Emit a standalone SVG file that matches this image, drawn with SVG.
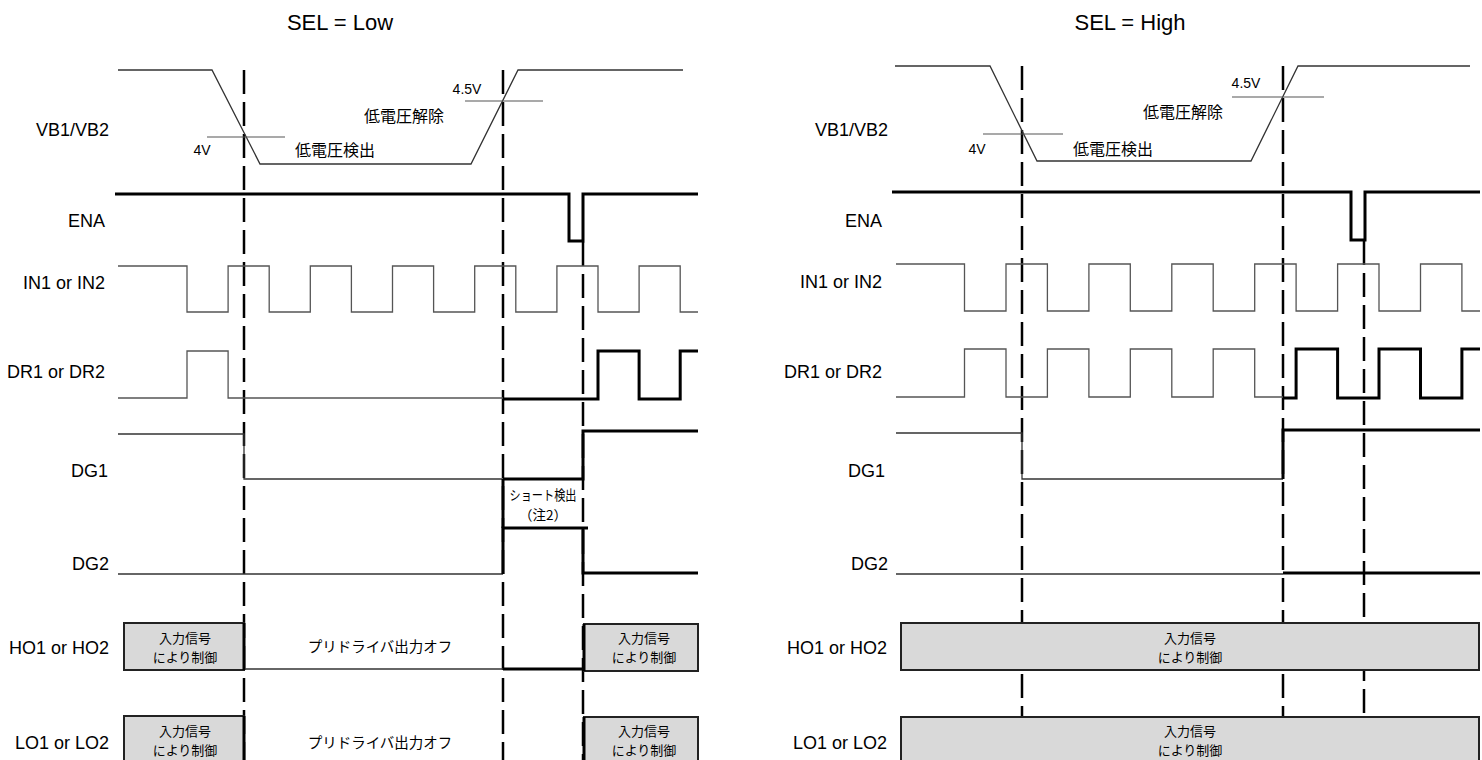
<svg xmlns="http://www.w3.org/2000/svg" width="1482" height="760" viewBox="0 0 1482 760">
<style>
.bg{fill:#ffffff}
.title{font-family:"Liberation Sans",Arial,sans-serif;font-size:22px;fill:#000;text-anchor:middle}
.lbl{font-family:"Liberation Sans",Arial,sans-serif;font-size:18px;fill:#000;text-anchor:end}
.v{font-family:"Liberation Sans",Arial,sans-serif;font-size:14px;fill:#000;text-anchor:middle}
.jp{font-family:"Noto Sans CJK JP","Noto Sans CJK SC",sans-serif;fill:#000;text-anchor:middle}
.j16{font-size:16px}
.j14{font-size:13px}
.j15{font-size:14.5px}
.j13{font-size:13.5px}
.thin{fill:none;stroke:#333;stroke-width:1.3}
.gray{fill:none;stroke:#555;stroke-width:1.3}
.tick{fill:none;stroke:#555;stroke-width:1.2}
.thick{fill:none;stroke:#000;stroke-width:3}
.dash{fill:none;stroke:#000;stroke-width:2.5;stroke-dasharray:24 8}
.box{fill:#d9d9d9;stroke:#222;stroke-width:2}
</style>
<rect class="bg" x="0" y="0" width="1482" height="760"/>

<g id="titles">
<text class="title" x="340" y="30">SEL = Low</text>
<text class="title" x="1130" y="30">SEL = High</text>
</g>

<g id="connectors">
<line class="dash" x1="244" y1="70" x2="244" y2="760"/>
<line class="dash" x1="503" y1="70" x2="503" y2="760"/>
<line class="dash" x1="583" y1="242" x2="583" y2="760"/>
<line class="dash" x1="1022" y1="66" x2="1022" y2="760"/>
<line class="dash" x1="1283" y1="66" x2="1283" y2="760"/>
<line class="dash" x1="1364" y1="241" x2="1364" y2="760"/>
</g>

<g id="labels-left">
<text class="lbl" x="109" y="136">VB1/VB2</text>
<text class="lbl" x="105" y="227">ENA</text>
<text class="lbl" x="105" y="289">IN1 or IN2</text>
<text class="lbl" x="105" y="378">DR1 or DR2</text>
<text class="lbl" x="108" y="477">DG1</text>
<text class="lbl" x="109" y="570">DG2</text>
<text class="lbl" x="109" y="654">HO1 or HO2</text>
<text class="lbl" x="109" y="749">LO1 or LO2</text>
</g>
<g id="labels-right">
<text class="lbl" x="888" y="136">VB1/VB2</text>
<text class="lbl" x="882" y="227">ENA</text>
<text class="lbl" x="882" y="288">IN1 or IN2</text>
<text class="lbl" x="882" y="378">DR1 or DR2</text>
<text class="lbl" x="885" y="477">DG1</text>
<text class="lbl" x="888" y="570">DG2</text>
<text class="lbl" x="887" y="654">HO1 or HO2</text>
<text class="lbl" x="887" y="749">LO1 or LO2</text>
</g>

<!-- LEFT PANEL -->
<g id="L-VB">
<polyline class="thin" points="118,70 212,70 260,164 471,164 518,70 683,70"/>
<line class="tick" x1="207" y1="137" x2="285" y2="137"/>
<line class="tick" x1="465" y1="101" x2="543" y2="101"/>
<text class="v" x="202" y="155">4V</text>
<text class="v" x="467" y="94">4.5V</text>
<text class="jp j16" x="404" y="122">低電圧解除</text>
<text class="jp j16" x="335" y="156">低電圧検出</text>
</g>
<g id="L-ENA">
<polyline class="thick" points="115,194 569,194 569,241 583,241 583,194 698,194"/>
</g>
<g id="L-IN">
<polyline class="gray" points="118,266 187,266 187,312 228.1,312 228.1,266 269.2,266 269.2,312 310.3,312 310.3,266 351.4,266 351.4,312 392.5,312 392.5,266 433.6,266 433.6,312 474.7,312 474.7,266 515.8,266 515.8,312 556.9,312 556.9,266 598,266 598,312 639.1,312 639.1,266 680.2,266 680.2,312 698,312"/>
</g>
<g id="L-DR">
<polyline class="gray" points="118,398 187,398 187,351 228.1,351 228.1,398 503,398"/>
<polyline class="thick" points="503,399 598,399 598,351 639.1,351 639.1,399 680.2,399 680.2,351 698,351"/>
</g>
<g id="L-DG1">
<polyline class="thin" points="118,434 244,434 244,479 503,479"/>
<polyline class="thick" points="503,479 583,479 583,431 698,431"/>
<line class="thick" x1="503" y1="479" x2="503" y2="528"/>
<text class="jp j13" x="543" y="500" textLength="67" lengthAdjust="spacingAndGlyphs">ショート検出</text>
<text class="jp j13" x="543" y="520">（注2）</text>
</g>
<g id="L-DG2">
<polyline class="thin" points="118,574 503,574"/>
<polyline class="thick" points="503,574 503,528 588,528"/>
<polyline class="thick" points="583,528 583,573 698,573"/>
</g>
<g id="L-HO">
<rect class="box" x="124" y="623" width="120" height="47"/>
<line class="thick" x1="244" y1="623" x2="244" y2="670"/>
<text class="jp j14" x="185" y="643">入力信号</text>
<text class="jp j14" x="185" y="662">により制御</text>
<line class="thin" x1="245" y1="669" x2="503" y2="669"/>
<line class="thick" x1="503" y1="669" x2="584" y2="669"/>
<text class="jp j15" x="380" y="652">プリドライバ出力オフ</text>
<rect class="box" x="584" y="624" width="114" height="47"/>
<line class="thick" x1="584" y1="624" x2="584" y2="671"/>
<text class="jp j14" x="644" y="643">入力信号</text>
<text class="jp j14" x="644" y="662">により制御</text>
</g>
<g id="L-LO">
<rect class="box" x="124" y="716" width="120" height="54"/>
<line class="thick" x1="244" y1="716" x2="244" y2="760"/>
<text class="jp j14" x="185" y="736">入力信号</text>
<text class="jp j14" x="185" y="755">により制御</text>
<text class="jp j15" x="380" y="748">プリドライバ出力オフ</text>
<rect class="box" x="584" y="717" width="114" height="54"/>
<line class="thick" x1="584" y1="717" x2="584" y2="760"/>
<text class="jp j14" x="644" y="736">入力信号</text>
<text class="jp j14" x="644" y="755">により制御</text>
</g>

<!-- RIGHT PANEL -->
<g id="R-VB">
<polyline class="thin" points="895,66 990,66 1037,161 1251,161 1298,66 1470,66"/>
<line class="tick" x1="983" y1="134" x2="1063" y2="134"/>
<line class="tick" x1="1232" y1="97" x2="1324" y2="97"/>
<text class="v" x="977" y="154">4V</text>
<text class="v" x="1246" y="88">4.5V</text>
<text class="jp j16" x="1183" y="118">低電圧解除</text>
<text class="jp j16" x="1113" y="155">低電圧検出</text>
</g>
<g id="R-ENA">
<polyline class="thick" points="892,192 1351,192 1351,240 1365,240 1365,192 1480,192"/>
</g>
<g id="R-IN">
<polyline class="gray" points="896,264 964.5,264 964.5,311 1006,311 1006,264 1047.4,264 1047.4,311 1088.9,311 1088.9,264 1130.3,264 1130.3,311 1171.8,311 1171.8,264 1213.2,264 1213.2,311 1254.7,311 1254.7,264 1296.1,264 1296.1,311 1337.6,311 1337.6,264 1379,264 1379,311 1420.5,311 1420.5,264 1461.9,264 1461.9,311 1480,311"/>
</g>
<g id="R-DR">
<polyline class="gray" points="896,397 964.5,397 964.5,349 1006,349 1006,397 1047.4,397 1047.4,349 1088.9,349 1088.9,397 1130.3,397 1130.3,349 1171.8,349 1171.8,397 1213.2,397 1213.2,349 1254.7,349 1254.7,397 1283,397"/>
<polyline class="thick" points="1283,398 1296.1,398 1296.1,349 1337.6,349 1337.6,398 1379,398 1379,349 1420.5,349 1420.5,398 1461.9,398 1461.9,349 1480,349"/>
</g>
<g id="R-DG1">
<polyline class="thin" points="896,433 1022,433 1022,479 1283,479"/>
<polyline class="thick" points="1283,479 1283,430 1480,430"/>
</g>
<g id="R-DG2">
<polyline class="thin" points="896,574 1283,574"/>
<polyline class="thick" points="1283,573 1480,573"/>
</g>
<g id="R-HO">
<rect class="box" x="901" y="623" width="578" height="47"/>
<text class="jp j14" x="1190" y="643">入力信号</text>
<text class="jp j14" x="1190" y="662">により制御</text>
</g>
<g id="R-LO">
<rect class="box" x="901" y="717" width="578" height="54"/>
<text class="jp j14" x="1190" y="736">入力信号</text>
<text class="jp j14" x="1190" y="755">により制御</text>
</g>
</svg>
